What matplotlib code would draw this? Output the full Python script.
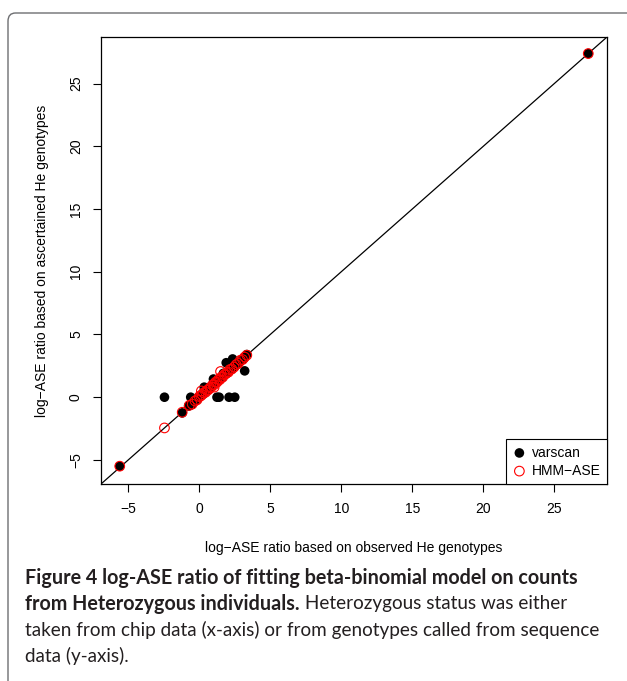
import matplotlib
matplotlib.use("Agg")
import matplotlib.pyplot as plt
from matplotlib.patches import FancyBboxPatch

plt.rcParams["font.family"] = ["Liberation Sans", "DejaVu Sans"]

# off-diagonal and extreme points
var_extra_x = [27.4, -5.6, -2.45, -1.2, -0.6, 1.25, 1.4, 2.1, 2.5, 1.9, 2.35, 3.2, 0.35, 1.0, 1.7]
var_extra_y = [27.4, -5.5, 0.0, -1.25, 0.0, 0.0, 0.0, 0.0, 0.0, 2.75, 3.05, 2.1, 0.8, 1.45, 1.9]

hmm_extra_x = [27.4, -5.6, -2.45, -1.2, 1.5, 0.15, 1.05]
hmm_extra_y = [27.4, -5.5, -2.45, -1.2, 2.05, 0.5, 0.8]

# points sitting along the diagonal
diag_x = [-0.75, -0.55, -0.4, -0.2, -0.05, 0.05, 0.15, 0.25, 0.35, 0.5, 0.6, 0.7,
          0.8, 0.9, 1.0, 1.1, 1.2, 1.3, 1.4, 1.5, 1.6, 1.7, 1.8, 1.9, 2.0,
          2.1, 2.25, 2.4, 2.55, 2.7, 2.85, 3.0, 3.15, 3.35]
diag_y = [-0.7, -0.6, -0.35, -0.25, 0.0, 0.1, 0.2, 0.3, 0.3, 0.55, 0.65, 0.65,
          0.85, 0.95, 1.05, 1.1, 1.25, 1.3, 1.45, 1.5, 1.55, 1.75, 1.8, 1.9, 2.05,
          2.1, 2.2, 2.45, 2.5, 2.7, 2.8, 3.0, 3.1, 3.4]

hmm_diag_x = [-0.7, -0.5, -0.3, -0.15, 0.0, 0.1, 0.2, 0.3, 0.45, 0.55, 0.65, 0.75,
              0.85, 0.95, 1.05, 1.15, 1.25, 1.35, 1.45, 1.55, 1.65, 1.75, 1.85,
              1.95, 2.05, 2.15, 2.3, 2.45, 2.6, 2.75, 2.9, 3.05, 3.2, 3.35]
hmm_diag_y = [-0.65, -0.55, -0.3, -0.2, 0.05, 0.1, 0.2, 0.35, 0.4, 0.55, 0.6, 0.75,
              0.8, 1.0, 1.0, 1.2, 1.2, 1.4, 1.4, 1.6, 1.6, 1.8, 1.85, 1.95, 2.0,
              2.2, 2.25, 2.4, 2.6, 2.7, 2.95, 3.0, 3.2, 3.35]

x_ticks = [-5, 0, 5, 10, 15, 20, 25]
y_ticks = [-5, 0, 5, 10, 15, 20, 25]
LIMS = (-6.92, 28.72)

fig = plt.figure(figsize=(6.27, 6.81), dpi=100)
fig.patch.set_facecolor("white")

# outer panel frame (runs off the right and bottom)
fig.patches.append(FancyBboxPatch(
    (8 / 627, -0.05), 1.2, 1.05 - 13 / 681,
    boxstyle="round,pad=0,rounding_size=0.012",
    transform=fig.transFigure, facecolor="none", edgecolor="#6d6e71", linewidth=1.0,
))

ax = fig.add_axes([101 / 627, 1 - 484 / 681, (607 - 101) / 627, (484 - 37) / 681])
ax.set_xlim(LIMS)
ax.set_ylim(LIMS)
ax.plot(LIMS, LIMS, color="black", linewidth=0.9, zorder=1)

ax.scatter(var_extra_x + diag_x, var_extra_y + diag_y, s=48, color="black",
           edgecolors="none", zorder=2, label="varscan")
ax.scatter(hmm_extra_x + hmm_diag_x, hmm_extra_y + hmm_diag_y, s=48, facecolors="none",
           edgecolors="#ff0000", linewidths=0.8, zorder=3, label="HMM\u2212ASE")

for side in ax.spines.values():
    side.set_linewidth(0.9)
ax.set_xticks(x_ticks)
ax.set_yticks(y_ticks)
ax.tick_params(length=6, width=0.8, labelsize=10, pad=7)
for lab in ax.get_yticklabels():
    lab.set_rotation(90)
    lab.set_va("center")
ax.set_xlabel("log\u2212ASE ratio based on observed He genotypes", fontsize=10, labelpad=18)
ax.set_ylabel("log\u2212ASE ratio based on ascertained He genotypes", fontsize=10, labelpad=14)

leg = ax.legend(loc="lower right", borderaxespad=0, fancybox=False, framealpha=1,
                edgecolor="black", fontsize=10, handletextpad=0.4, borderpad=0.45,
                labelspacing=0.3, handlelength=1.0)
leg.get_frame().set_linewidth(0.8)

# caption
cap_font = "Lato"
cap_col = "#231f20"
fs_b = 14.2
fs_r = 13.6
fig.text(25 / 627, 1 - 578 / 681,
         "Figure 4 log-ASE ratio of fitting beta-binomial model on counts",
         fontsize=fs_b, fontweight="bold", family=cap_font, color=cap_col, va="center")
t2 = fig.text(25 / 627, 1 - 604 / 681, "from Heterozygous individuals.",
              fontsize=fs_b, fontweight="bold", family=cap_font, color=cap_col, va="center")
ax.annotate(" Heterozygous status was either", xy=(1, 0.5), xycoords=t2,
            va="center", ha="left", fontsize=fs_r, family=cap_font, color=cap_col,
            annotation_clip=False)
fig.text(25 / 627, 1 - 630 / 681,
         "taken from chip data (x-axis) or from genotypes called from sequence",
         fontsize=fs_r, family=cap_font, color=cap_col, va="center")
fig.text(25 / 627, 1 - 656 / 681, "data (y-axis).",
         fontsize=fs_r, family=cap_font, color=cap_col, va="center")

fig.savefig("out.png", dpi=100, facecolor="white")
